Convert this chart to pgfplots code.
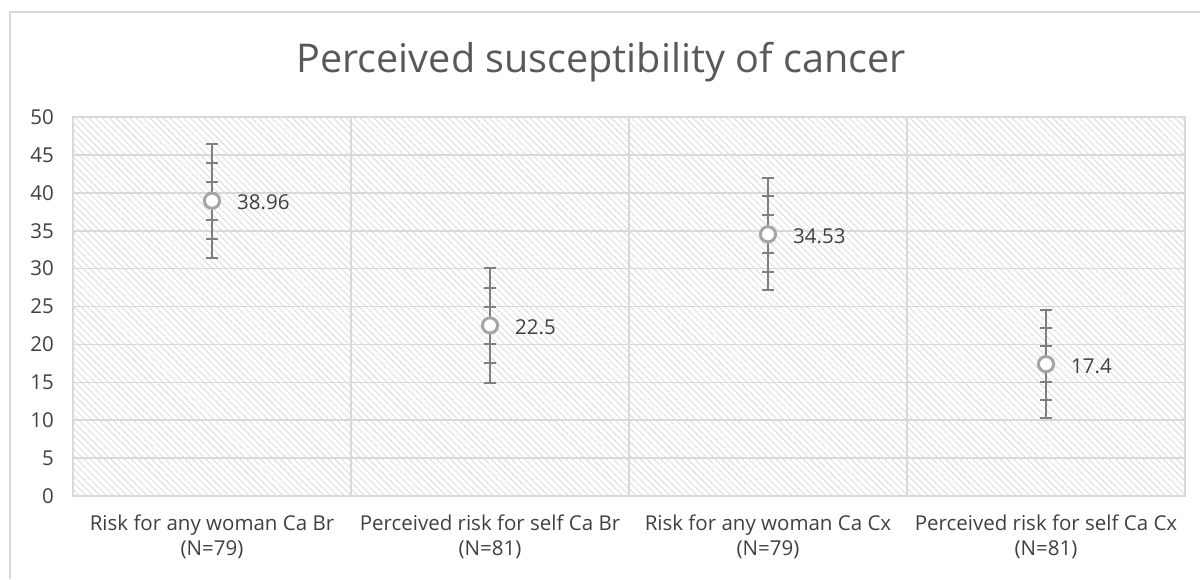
\documentclass[border=0pt]{standalone}
\usepackage{fontspec}
\setmainfont{Open Sans}
\usepackage{pgfplots}
\pgfplotsset{compat=1.18}
\usepackage{pgfplotstable}
\usetikzlibrary{patterns.meta}

\definecolor{txt}{HTML}{595959}
\definecolor{lbl}{HTML}{404040}
\definecolor{gridc}{HTML}{D9D9D9}
\definecolor{mk}{HTML}{A5A5A5}
\definecolor{eb}{HTML}{7F7F7F}

% x, mean, three error half-widths, label
\pgfplotstableread{
x y e1 e2 e3 lab
0 38.96 2.5 5.0 7.5 38.96
1 22.5 2.5 5.0 7.6 22.5
2 34.53 2.5 5.0 7.4 34.53
3 17.4 2.4 4.8 7.1 17.4
}\datatab

\begin{document}
\begin{tikzpicture}
\useasboundingbox (-36.5pt,-41.5pt) rectangle (563.5pt,248pt);
\draw[gridc, line width=0.6pt] (-31.5pt,-41.5pt) -- (-31.5pt,242pt) -- (563.5pt,242pt);
\node[font=\fontsize{19.8}{21}\selectfont, text=txt] at (264pt,217pt) {Perceived susceptibility of cancer};
\begin{axis}[
    at={(0,0)}, anchor=south west,
    scale only axis,
    width=556pt, height=189.5pt,
    xmin=-0.5, xmax=3.5,
    ymin=0, ymax=50,
    ytick={0,5,...,50},
    xtick={0,1,2,3},
    xticklabels={{Risk for any woman Ca Br\\(N=79)},{Perceived risk for self Ca Br\\(N=81)},{Risk for any woman Ca Cx\\(N=79)},{Perceived risk for self Ca Cx\\(N=81)}},
    minor xtick={0.5,1.5,2.5},
    xminorgrids, ymajorgrids,
    grid style={gridc, line width=0.8pt},
    minor grid style={gridc, line width=0.8pt},
    axis line style={gridc, line width=0.8pt},
    major tick length=0pt, minor tick length=0pt,
    tick label style={font=\fontsize{10.25}{12.5}\selectfont, text=lbl},
    xticklabel style={align=center, yshift=-6pt},
    yticklabel style={xshift=-6pt},
    /pgf/number format/assume math mode=true,
    axis background/.style={pattern={Lines[angle=-45, distance=2.4pt, line width=0.4pt]}, pattern color=gridc},
    clip=false,
]
\addplot[draw=none, mark=none, forget plot,
    error bars/.cd, y dir=both, y explicit,
    error bar style={eb, line width=1pt},
    error mark options={eb, line width=1pt, mark size=3pt, rotate=90}]
    table[x=x, y=y, y error=e3] {\datatab};
\addplot[draw=none, mark=none, forget plot,
    error bars/.cd, y dir=both, y explicit,
    error bar style={eb, line width=1pt},
    error mark options={eb, line width=1pt, mark size=3pt, rotate=90}]
    table[x=x, y=y, y error=e2] {\datatab};
\addplot[draw=none, mark=none, forget plot,
    error bars/.cd, y dir=both, y explicit,
    error bar style={eb, line width=1pt},
    error mark options={eb, line width=1pt, mark size=3pt, rotate=90}]
    table[x=x, y=y, y error=e1] {\datatab};
\addplot[only marks, mark=*, mark size=3.8pt,
    mark options={draw=mk, fill=white, line width=1.5pt},
    point meta=explicit symbolic,
    nodes near coords,
    nodes near coords style={anchor=west, xshift=8.5pt, yshift=-1pt, font=\fontsize{10.25}{12}\selectfont, text=lbl}]
    table[x=x, y=y, meta=lab] {\datatab};
\end{axis}
\end{tikzpicture}
\end{document}
